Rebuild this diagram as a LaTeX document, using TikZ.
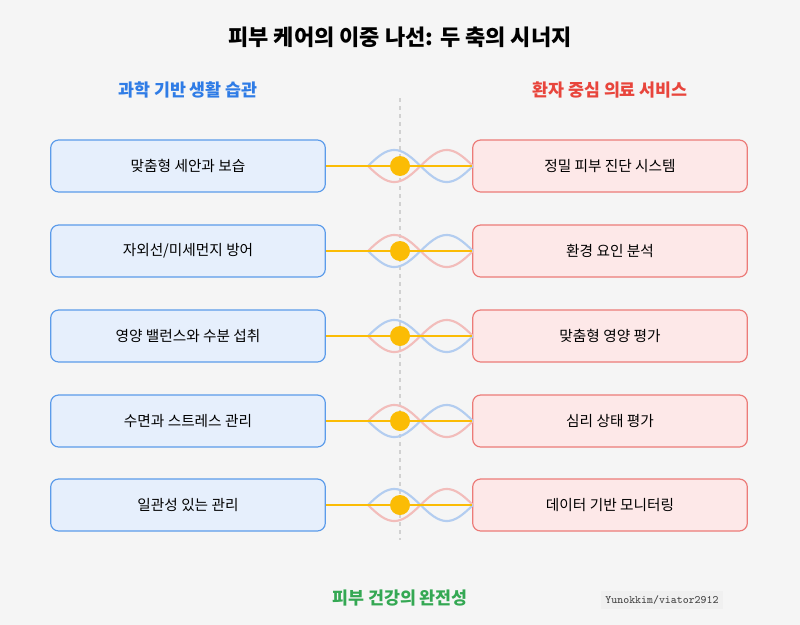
\documentclass[tikz,border=0pt]{standalone}
\usepackage{fontspec}
\setmainfont{Noto Sans CJK KR}
\usetikzlibrary{positioning}
\definecolor{bluebd}{HTML}{5B9BEA}
\definecolor{bluefl}{HTML}{E6EFFC}
\definecolor{redbd}{HTML}{EC7B78}
\definecolor{redfl}{HTML}{FDE8E8}
\definecolor{gold}{HTML}{FBBC05}
\definecolor{bluewave}{HTML}{B3CDF0}
\definecolor{redwave}{HTML}{F2BDBB}
\definecolor{bluehead}{HTML}{2F7CE6}
\definecolor{redhead}{HTML}{E8453C}
\definecolor{greenfoot}{HTML}{34A853}
\begin{document}
\begin{tikzpicture}
    [
    x=0.75pt, y=-0.75pt,
    leftbox/.style={draw=bluebd,fill=bluefl,rounded corners=6pt,line width=0.9pt,minimum width=206pt,minimum height=39pt,font=\fontsize{11}{13}\selectfont},
    rightbox/.style={draw=redbd,fill=redfl,rounded corners=6pt,line width=0.9pt,minimum width=206pt,minimum height=39pt,font=\fontsize{11}{13}\selectfont},
    hub/.style={circle,fill=gold,inner sep=0pt,minimum size=15pt}
    ]
    \fill[black!4] (0,0) rectangle (800,625);
    \useasboundingbox (0,0) rectangle (800,625);
    \node (title) at (400,37) {\fontsize{16.5}{19}\selectfont\bfseries 피부 케어의 이중 나선: 두 축의 시너지};
    \node[text=bluehead] (lhead) at (188,90) {\fontsize{13}{15}\selectfont\bfseries 과학 기반 생활 습관};
    \node[text=redhead] (rhead) at (610,90) {\fontsize{13}{15}\selectfont\bfseries 환자 중심 의료 서비스};
    \coordinate (top) at (400,98);
    \coordinate (bot) at (400,540);
    \draw[black!18,dashed,line width=1pt] (top) -- (bot);
    \foreach \i/\yy/\amp/\lt/\rt in {1/166/16/{맞춤형 세안과 보습}/{정밀 피부 진단 시스템},
                                2/251/-16/{자외선/미세먼지 방어}/{환경 요인 분석},
                                3/336/16/{영양 밸런스와 수분 섭취}/{맞춤형 영양 평가},
                                4/421/-16/{수면과 스트레스 관리}/{심리 상태 평가},
                                5/505/16/{일관성 있는 관리}/{데이터 기반 모니터링}}
    {
      \node[leftbox] (l\i) at (188,\yy) {\lt};
      \node[rightbox] (r\i) at (610,\yy) {\rt};
      \draw[redwave,line width=1.6pt,domain=0:105,samples=60,smooth]
        plot ({368+\x},{\yy+(\amp)*sin(\x/105*360)});
      \draw[bluewave,line width=1.6pt,domain=0:105,samples=60,smooth]
        plot ({368+\x},{\yy-(\amp)*sin(\x/105*360)});
      \draw[gold,line width=1.5pt] (l\i.east) -- (r\i.west);
      \node[hub] (h\i) at (400,\yy) {};
    }
    \node[text=greenfoot] (foot) at (400,598) {\fontsize{13}{15}\selectfont\bfseries 피부 건강의 완전성};
    \node[fill=black!6,text=black!75,font=\fontsize{8.5}{10}\selectfont\ttfamily] (sign) at (662,600) {Yunokkim/viator2912};
\end{tikzpicture}
\end{document}
